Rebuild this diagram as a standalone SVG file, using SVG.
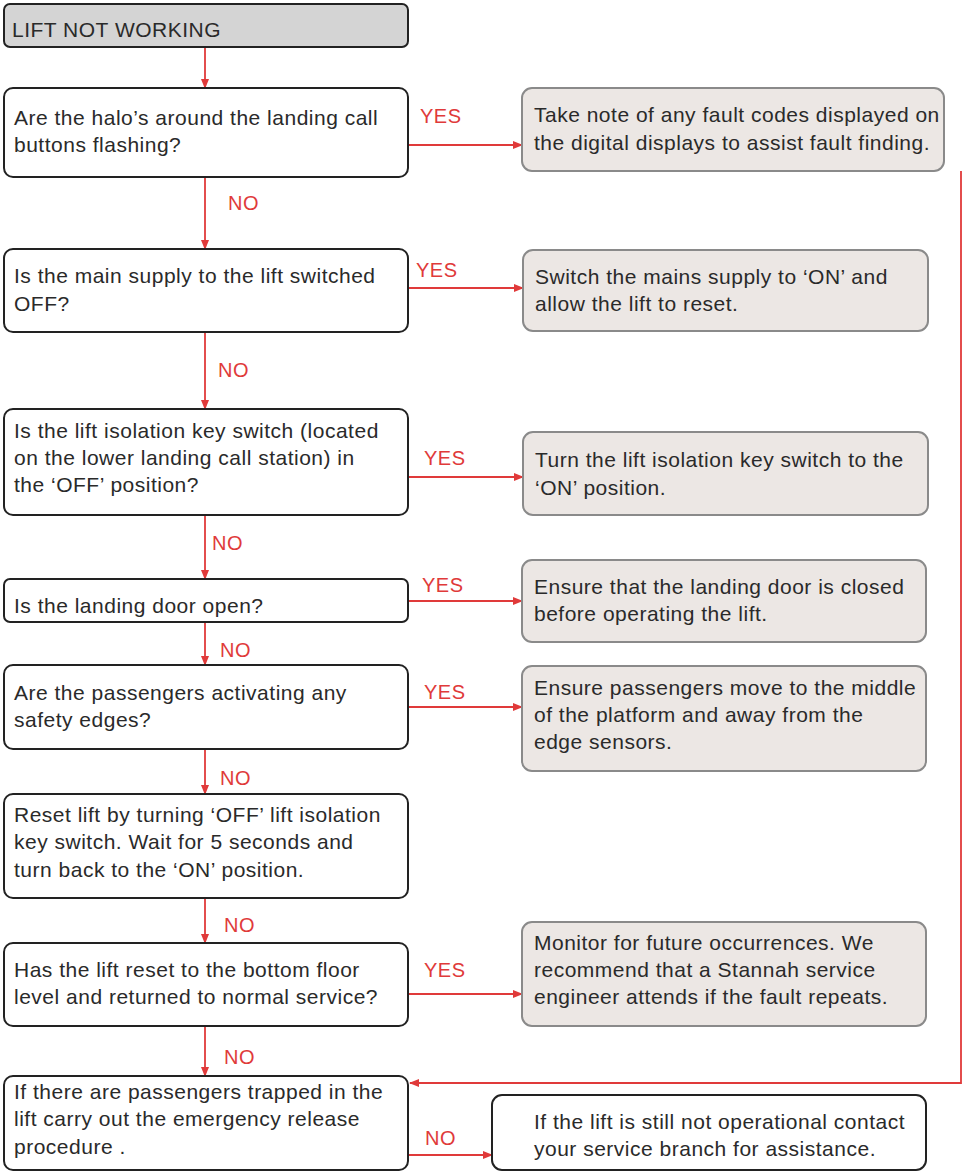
<svg xmlns="http://www.w3.org/2000/svg" width="974" height="1172" viewBox="0 0 974 1172">
<defs>
<style>
text{font-family:"Liberation Sans",Arial,sans-serif;font-size:21px;letter-spacing:0.5px;fill:#2a2a2a}
.lbl{fill:#e03a3a;font-size:20px}
.q{fill:#fff;stroke:#222;stroke-width:2}
.a{fill:#ece7e4;stroke:#8a8a8a;stroke-width:2}
.c{fill:none;stroke:#e03a3a;stroke-width:1.8}
</style>
<marker id="ah" markerWidth="10" markerHeight="10" refX="9" refY="5" orient="auto" markerUnits="userSpaceOnUse">
<path d="M0,1 L10,5 L0,9 Z" fill="#e03a3a"/>
</marker>
</defs>
<g id="connectors">
<line class="c" x1="205" y1="47" x2="205" y2="88" marker-end="url(#ah)"/>
<line class="c" x1="205" y1="177" x2="205" y2="249" marker-end="url(#ah)"/>
<line class="c" x1="205" y1="332" x2="205" y2="409" marker-end="url(#ah)"/>
<line class="c" x1="205" y1="515" x2="205" y2="579" marker-end="url(#ah)"/>
<line class="c" x1="205" y1="622" x2="205" y2="665" marker-end="url(#ah)"/>
<line class="c" x1="205" y1="749" x2="205" y2="794" marker-end="url(#ah)"/>
<line class="c" x1="205" y1="898" x2="205" y2="943" marker-end="url(#ah)"/>
<line class="c" x1="205" y1="1026" x2="205" y2="1076" marker-end="url(#ah)"/>
<line class="c" x1="408" y1="145" x2="522" y2="145" marker-end="url(#ah)"/>
<line class="c" x1="408" y1="288" x2="523" y2="288" marker-end="url(#ah)"/>
<line class="c" x1="408" y1="477" x2="523" y2="477" marker-end="url(#ah)"/>
<line class="c" x1="408" y1="601" x2="522" y2="601" marker-end="url(#ah)"/>
<line class="c" x1="408" y1="707" x2="522" y2="707" marker-end="url(#ah)"/>
<line class="c" x1="408" y1="994" x2="522" y2="994" marker-end="url(#ah)"/>
<line class="c" x1="408" y1="1155" x2="492" y2="1155" marker-end="url(#ah)"/>
<polyline class="c" points="961,171 961,1083 410,1083" marker-end="url(#ah)"/>
<text class="lbl" x="228" y="210">NO</text>
<text class="lbl" x="218" y="377">NO</text>
<text class="lbl" x="212" y="550">NO</text>
<text class="lbl" x="220" y="657">NO</text>
<text class="lbl" x="220" y="785">NO</text>
<text class="lbl" x="224" y="932">NO</text>
<text class="lbl" x="224" y="1064">NO</text>
<text class="lbl" x="425" y="1145">NO</text>
<text class="lbl" x="420" y="123">YES</text>
<text class="lbl" x="416" y="277">YES</text>
<text class="lbl" x="424" y="465">YES</text>
<text class="lbl" x="422" y="592">YES</text>
<text class="lbl" x="424" y="699">YES</text>
<text class="lbl" x="424" y="977">YES</text>
</g>
<g id="start">
<rect x="4" y="4" width="404" height="43" rx="6" fill="#d4d4d4" stroke="#222" stroke-width="2"/>
<text x="12" y="37">LIFT NOT WORKING</text>
</g>
<g id="q1">
<rect class="q" x="4" y="88" width="404" height="89" rx="9"/>
<text x="14" y="125">Are the halo’s around the landing call</text>
<text x="14" y="152">buttons flashing?</text>
</g>
<g id="a1">
<rect class="a" x="522" y="88" width="422" height="83" rx="10"/>
<text x="534" y="122">Take note of any fault codes displayed on</text>
<text x="534" y="150">the digital displays to assist fault finding.</text>
</g>
<g id="q2">
<rect class="q" x="4" y="249" width="404" height="83" rx="9"/>
<text x="14" y="283">Is the main supply to the lift switched</text>
<text x="14" y="311">OFF?</text>
</g>
<g id="a2">
<rect class="a" x="523" y="250" width="405" height="81" rx="10"/>
<text x="535" y="284">Switch the mains supply to ‘ON’ and</text>
<text x="535" y="311">allow the lift to reset.</text>
</g>
<g id="q3">
<rect class="q" x="4" y="409" width="404" height="106" rx="9"/>
<text x="14" y="438">Is the lift isolation key switch (located</text>
<text x="14" y="465">on the lower landing call station) in</text>
<text x="14" y="492">the ‘OFF’ position?</text>
</g>
<g id="a3">
<rect class="a" x="523" y="432" width="405" height="83" rx="10"/>
<text x="535" y="467">Turn the lift isolation key switch to the</text>
<text x="535" y="495">‘ON’ position.</text>
</g>
<g id="q4">
<rect class="q" x="4" y="579" width="404" height="43" rx="6"/>
<text x="14" y="613">Is the landing door open?</text>
</g>
<g id="a4">
<rect class="a" x="522" y="560" width="404" height="82" rx="10"/>
<text x="534" y="594">Ensure that the landing door is closed</text>
<text x="534" y="621">before operating the lift.</text>
</g>
<g id="q5">
<rect class="q" x="4" y="665" width="404" height="84" rx="9"/>
<text x="14" y="700">Are the passengers activating any</text>
<text x="14" y="727">safety edges?</text>
</g>
<g id="a5">
<rect class="a" x="522" y="666" width="404" height="105" rx="10"/>
<text x="534" y="695">Ensure passengers move to the middle</text>
<text x="534" y="722">of the platform and away from the</text>
<text x="534" y="749">edge sensors.</text>
</g>
<g id="q6">
<rect class="q" x="4" y="794" width="404" height="104" rx="9"/>
<text x="14" y="822">Reset lift by turning ‘OFF’ lift isolation</text>
<text x="14" y="849">key switch. Wait for 5 seconds and</text>
<text x="14" y="877">turn back to the ‘ON’ position.</text>
</g>
<g id="q7">
<rect class="q" x="4" y="943" width="404" height="83" rx="9"/>
<text x="14" y="977">Has the lift reset to the bottom floor</text>
<text x="14" y="1004">level and returned to normal service?</text>
</g>
<g id="a6">
<rect class="a" x="522" y="922" width="404" height="104" rx="10"/>
<text x="534" y="950">Monitor for future occurrences. We</text>
<text x="534" y="977">recommend that a Stannah service</text>
<text x="534" y="1004">engineer attends if the fault repeats.</text>
</g>
<g id="q8">
<rect class="q" x="4" y="1076" width="404" height="94" rx="9"/>
<text x="14" y="1099">If there are passengers trapped in the</text>
<text x="14" y="1126">lift carry out the emergency release</text>
<text x="14" y="1154">procedure .</text>
</g>
<g id="a7">
<rect class="q" x="492" y="1095" width="434" height="75" rx="10"/>
<text x="534" y="1129">If the lift is still not operational contact</text>
<text x="534" y="1156">your service branch for assistance.</text>
</g>
</svg>
